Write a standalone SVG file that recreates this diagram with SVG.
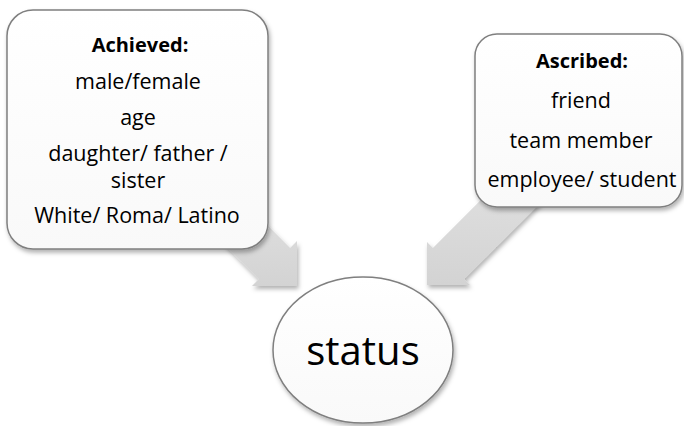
<svg xmlns="http://www.w3.org/2000/svg" width="684" height="426" viewBox="0 0 684 426">
  <defs>
    <filter id="shadow" x="-20%" y="-20%" width="150%" height="150%">
      <feDropShadow dx="1.5" dy="3" stdDeviation="2" flood-color="#000" flood-opacity="0.3"/>
    </filter>
    <linearGradient id="arrowFill" x1="0" y1="0" x2="0" y2="1">
      <stop offset="0" stop-color="#e2e2e2"/>
      <stop offset="1" stop-color="#d3d3d3"/>
    </linearGradient>
    <linearGradient id="boxFill" x1="0" y1="0" x2="0" y2="1">
      <stop offset="0" stop-color="#ffffff"/>
      <stop offset="1" stop-color="#f9f9f9"/>
    </linearGradient>
  </defs>
  <style>
    .box { fill: url(#boxFill); stroke: #7f7f7f; stroke-width: 1.5; filter: url(#shadow); }
    .arrow { fill: url(#arrowFill); stroke: none; filter: url(#shadow); }
    .t { font-family: "Open Sans", "Noto Sans", "Liberation Sans", sans-serif; font-size: 21.5px; fill: #000; text-anchor: middle; }
    .b { font-weight: bold; font-size: 20px; }
    .big { font-size: 40px; }
  </style>

  <g id="connectors">
    <path class="arrow" d="M 198.9 219.1 L 230.1 187.9 L 290.1 247.9 L 297 241 L 297 286 L 252 286 L 258.9 279.1 Z"/>
    <path class="arrow" d="M 522.9 157.9 L 554.1 189.1 L 464.1 279.1 L 470 285 L 427 285 L 427 242 L 432.9 247.9 Z"/>
  </g>

  <g id="achieved">
    <rect class="box" x="7" y="10" width="261" height="239" rx="26" ry="26"/>
    <text class="t b" x="140" y="52">Achieved:</text>
    <text class="t" x="138" y="89">male/female</text>
    <text class="t" x="138" y="125">age</text>
    <text class="t" x="138" y="161">daughter/ father /</text>
    <text class="t" x="138" y="188">sister</text>
    <text class="t" x="137" y="223">White/ Roma/ Latino</text>
  </g>

  <g id="ascribed">
    <rect class="box" x="475" y="34" width="207" height="173" rx="22" ry="22"/>
    <text class="t b" x="582" y="68">Ascribed:</text>
    <text class="t" x="581" y="108">friend</text>
    <text class="t" x="581" y="148">team member</text>
    <text class="t" x="582" y="187">employee/ student</text>
  </g>

  <g id="status">
    <ellipse class="box" cx="363" cy="350" rx="90" ry="73"/>
    <text class="t big" x="363" y="365">status</text>
  </g>
</svg>
